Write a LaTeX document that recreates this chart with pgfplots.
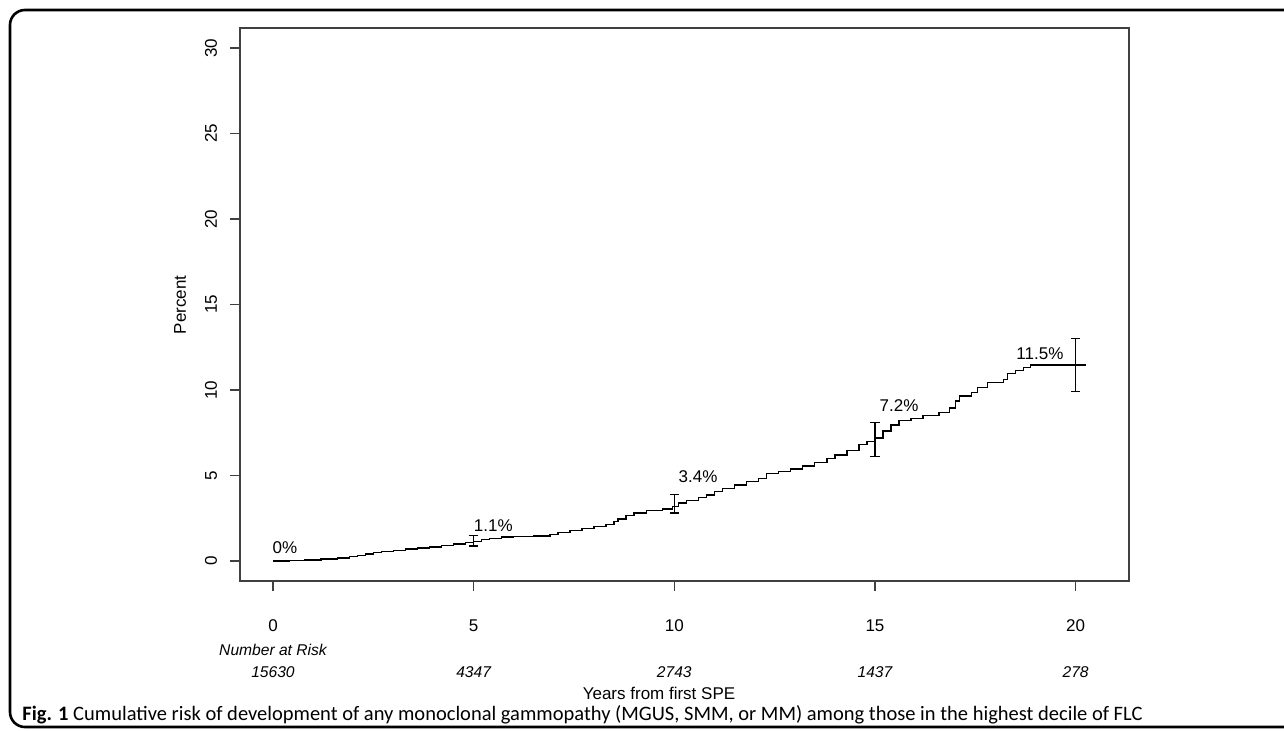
\documentclass[border=0pt]{standalone}
\usepackage{fontspec}
\setmainfont{Liberation Sans}
\newfontfamily\capfont{Carlito}
\usepackage{pgfplots}
\pgfplotsset{compat=1.18}

\pgfplotstableread{
t y
0 0
0.4 0.03
0.8 0.07
1.2 0.12
1.6 0.18
1.9 0.25
2.1 0.32
2.3 0.40
2.5 0.48
2.7 0.55
3.0 0.62
3.3 0.70
3.6 0.76
3.9 0.82
4.2 0.92
4.5 1.00
4.8 1.08
5.0 1.15
5.2 1.25
5.4 1.33
5.7 1.40
6.0 1.43
6.5 1.46
6.9 1.55
7.1 1.65
7.4 1.78
7.7 1.90
8.0 2.02
8.3 2.15
8.5 2.30
8.6 2.45
8.8 2.65
9.0 2.80
9.3 2.95
9.7 3.05
9.95 3.20
10.1 3.40
10.3 3.55
10.6 3.70
10.8 3.85
11.0 4.05
11.2 4.25
11.5 4.45
11.8 4.65
12.1 4.82
12.3 5.10
12.6 5.25
12.9 5.38
13.2 5.55
13.5 5.75
13.8 6.00
14.0 6.20
14.3 6.45
14.6 6.80
14.8 7.00
15.0 7.20
15.2 7.60
15.4 7.95
15.6 8.20
15.9 8.35
16.2 8.50
16.6 8.70
16.85 8.95
17.0 9.35
17.1 9.65
17.4 9.85
17.55 10.15
17.8 10.45
18.2 10.60
18.3 10.95
18.5 11.15
18.7 11.32
18.88 11.46
20.25 11.46
}\curvedata

\begin{document}
\begin{tikzpicture}
\useasboundingbox (0,0) rectangle (642pt,365pt);
\draw[line width=1.3pt, rounded corners=7.5pt] (650pt,360pt) -- (5pt,360pt) -- (5pt,1.5pt) -- (650pt,1.5pt);
\begin{axis}[
  at={(120pt,74.5pt)}, anchor=south west,
  scale only axis, width=444.5pt, height=276.5pt,
  xmin=-0.822, xmax=21.33, ymin=-1.17, ymax=31.17,
  xtick={0,5,10,15,20}, ytick={0,5,10,15,20,25,30},
  xtick pos=bottom, ytick pos=left,
  tick align=outside, major tick length=5pt,
  tick style={line width=0.6pt, color=black!75},
  axis line style={line width=0.9pt, black!75},
  tick label style={font=\fontsize{8.5}{10}\selectfont, /pgf/number format/assume math mode=true},
  yticklabel style={rotate=90, anchor=south},
  xticklabel shift=11pt,
  yticklabel shift=3pt,
  clip=false,
]
\addplot[const plot, black, line width=0.7pt] table[x=t, y=y] {\curvedata};
\addplot[black, line width=0.7pt, unbounded coords=jump] coordinates {
(5,0.88) (5,1.48) (nan,nan)
(4.88,0.88) (5.12,0.88) (nan,nan)
(4.88,1.48) (5.12,1.48) (nan,nan)
(10,2.8) (10,3.9) (nan,nan)
(9.88,2.8) (10.12,2.8) (nan,nan)
(9.88,3.9) (10.12,3.9) (nan,nan)
(15,6.1) (15,8.1) (nan,nan)
(14.88,6.1) (15.12,6.1) (nan,nan)
(14.88,8.1) (15.12,8.1) (nan,nan)
(20,9.9) (20,13.0) (nan,nan)
(19.88,9.9) (20.12,9.9) (nan,nan)
(19.88,13.0) (20.12,13.0)
};
\begin{scope}[font=\fontsize{8.5}{10}\selectfont]
\node at (axis cs:0.3,0.76) {0\%};
\node at (axis cs:5.49,2.05) {1.1\%};
\node at (axis cs:10.59,4.91) {3.4\%};
\node at (axis cs:15.6,9.09) {7.2\%};
\node at (axis cs:19.11,12.13) {11.5\%};
\end{scope}
\begin{scope}[font=\fontsize{7.8}{9}\selectfont\itshape]
\node at (axis cs:0,-5.2) {Number at Risk};
\node at (axis cs:0,-6.49) {15630};
\node at (axis cs:5,-6.49) {4347};
\node at (axis cs:10,-6.49) {2743};
\node at (axis cs:15,-6.49) {1437};
\node at (axis cs:20,-6.49) {278};
\end{scope}
\end{axis}
\node[rotate=90, font=\fontsize{8.5}{10}\selectfont] at (90pt,212.5pt) {Percent};
\node[font=\fontsize{8.5}{10}\selectfont] at (329.5pt,18.5pt) {Years from first SPE};
\node[anchor=west, inner sep=0pt, font=\capfont\fontsize{10.25}{12}\selectfont] at (11pt,7.5pt) {\textbf{Fig. 1} Cumulative risk of development of any monoclonal gammopathy (MGUS, SMM, or MM) among those in the highest decile of FLC};
\end{tikzpicture}
\end{document}
